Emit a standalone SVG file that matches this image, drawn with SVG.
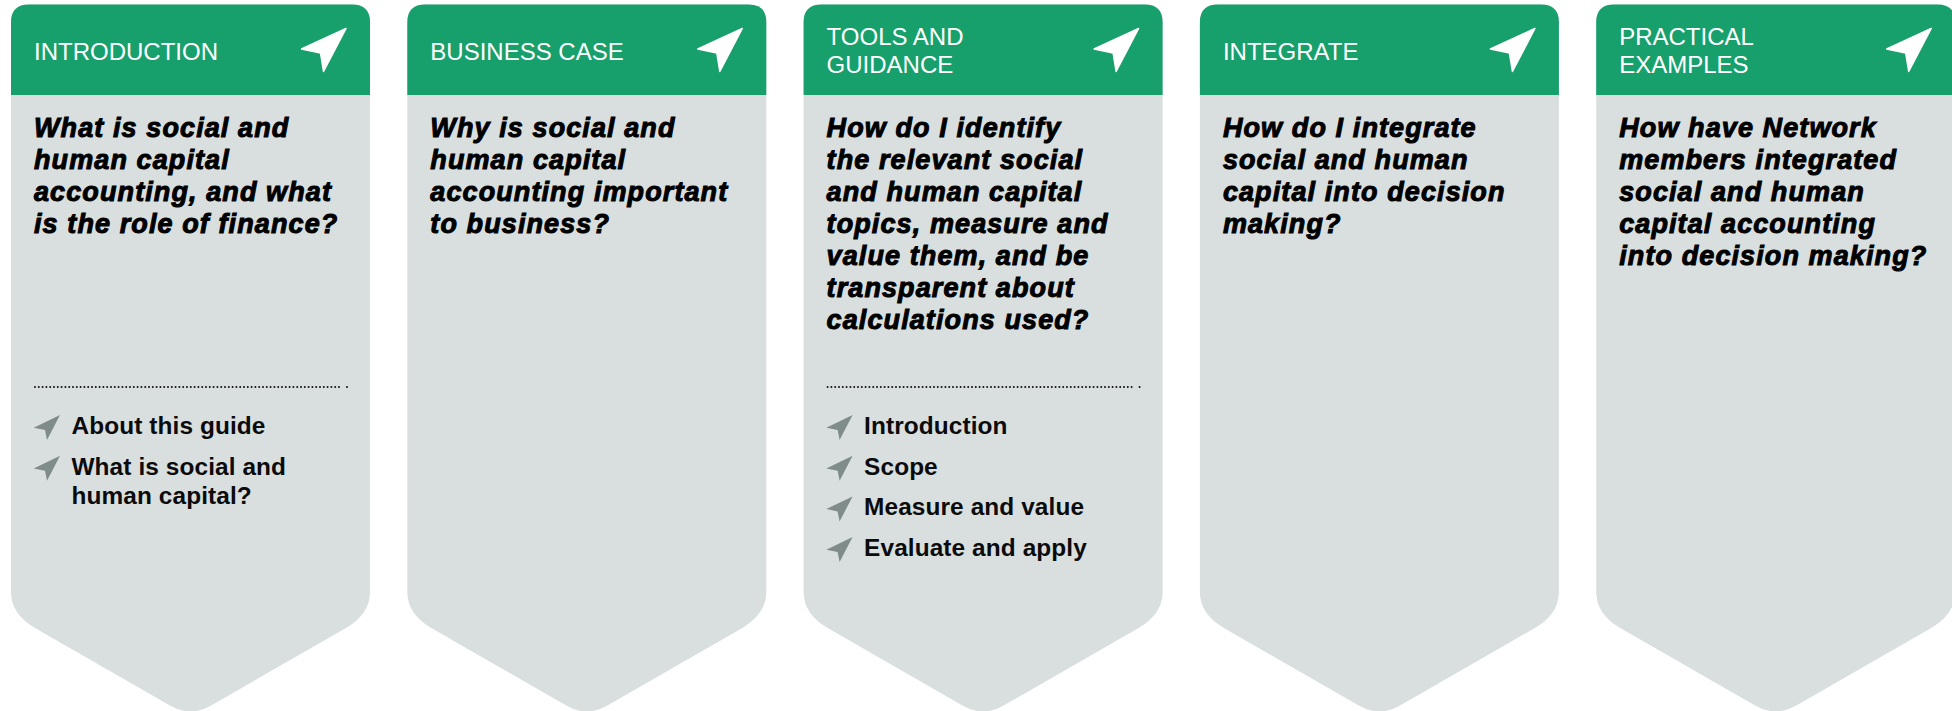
<svg xmlns="http://www.w3.org/2000/svg" width="1952" height="711" viewBox="0 0 1952 711">
<style>
.body{fill:#d9dfdf}
.head{fill:#18a06c}
.h{font:24px "Liberation Sans",Arial,sans-serif;fill:#fff}
.q{font:italic 700 27px "Liberation Sans",Arial,sans-serif;fill:#000;stroke:#000;stroke-width:1;letter-spacing:1.100px}
.i{font:700 24.400px "Liberation Sans",Arial,sans-serif;fill:#0b0b0b;letter-spacing:.1px}
.dot{stroke:#111;stroke-width:2;stroke-linecap:round;stroke-dasharray:0 3.800;fill:none}
</style>
<defs>
<g id="card">
<path class="body" d="M11 22Q11 4.5 29 4.5H352Q370 4.5 370 22V592Q370 614 346 628L212 705Q190.500 718 169 705L35 628Q11 614 11 592Z"/>
<path class="head" d="M11 95V22Q11 4.5 29 4.500H352Q370 4.5 370 22V95Z"/>
<path fill="#fff" stroke="#fff" stroke-width="1.500" stroke-linejoin="round" d="M346 28.500L301.500 49L320.500 53L323.500 71.500Z"/>
</g>
<path id="pin" fill="#7f8c8a" d="M60 415L33.700 427.700L45 430L47 440Z"/>
</defs>
<g id="connectors"/>
<g id="node-introduction">
<use href="#card"/>
<text class="h" x="34" y="59.500">INTRODUCTION</text>
<text class="q" x="34" y="137">What is social and</text>
<text class="q" x="34" y="169">human capital</text>
<text class="q" x="34" y="201">accounting, and what</text>
<text class="q" x="34" y="233">is the role of finance?</text>
<path class="dot" d="M35 387H339M347 387H347.100"/>
<use href="#pin"/>
<text class="i" x="71.500" y="434">About this guide</text>
<use href="#pin" y="40.700"/>
<text class="i" x="71.500" y="475">What is social and</text>
<text class="i" x="71.500" y="504">human capital?</text>
</g>
<g id="node-business-case">
<use href="#card" x="396.300"/>
<text class="h" x="430.300" y="59.500">BUSINESS CASE</text>
<text class="q" x="430.300" y="137">Why is social and</text>
<text class="q" x="430.300" y="169">human capital</text>
<text class="q" x="430.300" y="201">accounting important</text>
<text class="q" x="430.300" y="233">to business?</text>
</g>
<g id="node-tools-and-guidance">
<use href="#card" x="792.600"/>
<text class="h" x="826.600" y="44.500">TOOLS AND</text>
<text class="h" x="826.600" y="72.500">GUIDANCE</text>
<text class="q" x="826.600" y="137">How do I identify</text>
<text class="q" x="826.600" y="169">the relevant social</text>
<text class="q" x="826.600" y="201">and human capital</text>
<text class="q" x="826.600" y="233">topics, measure and</text>
<text class="q" x="826.600" y="265">value them, and be</text>
<text class="q" x="826.600" y="297">transparent about</text>
<text class="q" x="826.600" y="329">calculations used?</text>
<path class="dot" d="M827.600 387H1131.600M1139.600 387H1139.700"/>
<use href="#pin" x="792.600"/>
<text class="i" x="864.100" y="434">Introduction</text>
<use href="#pin" x="792.600" y="40.700"/>
<text class="i" x="864.100" y="475">Scope</text>
<use href="#pin" x="792.600" y="81.400"/>
<text class="i" x="864.100" y="515">Measure and value</text>
<use href="#pin" x="792.600" y="122.100"/>
<text class="i" x="864.100" y="556">Evaluate and apply</text>
</g>
<g id="node-integrate">
<use href="#card" x="1188.900"/>
<text class="h" x="1222.900" y="59.500">INTEGRATE</text>
<text class="q" x="1222.900" y="137">How do I integrate</text>
<text class="q" x="1222.900" y="169">social and human</text>
<text class="q" x="1222.900" y="201">capital into decision</text>
<text class="q" x="1222.900" y="233">making?</text>
</g>
<g id="node-practical-examples">
<use href="#card" x="1585.200"/>
<text class="h" x="1619.200" y="44.500">PRACTICAL</text>
<text class="h" x="1619.200" y="72.500">EXAMPLES</text>
<text class="q" x="1619.200" y="137">How have Network</text>
<text class="q" x="1619.200" y="169">members integrated</text>
<text class="q" x="1619.200" y="201">social and human</text>
<text class="q" x="1619.200" y="233">capital accounting</text>
<text class="q" x="1619.200" y="265">into decision making?</text>
</g>
</svg>
